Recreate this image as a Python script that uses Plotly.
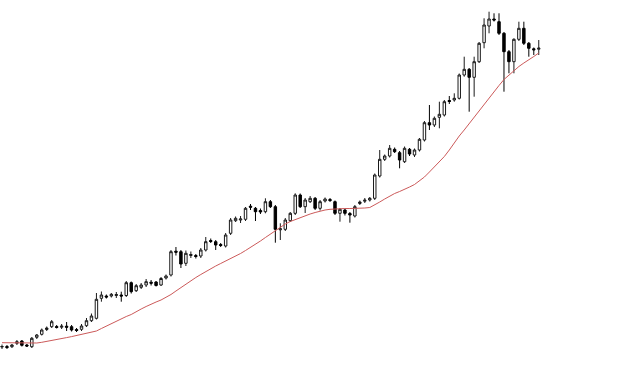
import plotly.graph_objects as go

opens = [23.0, 23.5, 23.3, 26.7, 29.0, 25.0, 23.3, 32.7, 35.7, 40.5,
         43.3, 43.5, 42.8, 43.8, 43.3, 40.5, 40.7, 44.3, 49.3, 51.7,
         71.7, 74.0, 74.0, 74.5, 75.0, 74.5, 87.3, 79.3, 82.7, 85.0,
         87.8, 88.0, 85.0, 92.0, 95.0, 118.8, 118.3, 106.7, 114.5, 114.5,
         114.0, 120.0, 129.5, 128.3, 125.5, 124.0, 136.7, 149.3, 150.0, 150.7,
         163.8, 161.7, 159.5, 158.3, 168.3, 163.3, 140.2, 140.7, 149.3, 156.7,
         175.0, 163.3, 168.3, 171.7, 161.7, 169.0, 170.5, 168.3, 156.7, 160.0,
         156.5, 154.0, 166.5, 168.8, 170.0, 171.7, 194.0, 210.7, 214.0, 220.7,
         217.3, 208.3, 220.7, 215.0, 220.0, 230.0, 247.3, 245.0, 252.7, 255.0,
         269.5, 270.0, 271.7, 295.0, 300.7, 292.7, 308.3, 327.3, 344.0, 351.0,
         348.3, 336.7, 318.3, 308.3, 330.7, 341.7, 326.7, 321.2, 320.8]
highs = [25.5, 25.0, 26.0, 30.0, 30.0, 26.0, 33.0, 36.0, 41.5, 43.5,
         50.0, 45.0, 46.0, 48.0, 45.0, 42.0, 46.0, 52.0, 56.5, 77.0,
         78.5, 75.5, 77.0, 78.0, 78.3, 89.0, 88.5, 86.0, 87.0, 91.0,
         90.0, 89.0, 93.0, 95.5, 120.0, 123.0, 120.0, 119.5, 118.5, 116.0,
         122.0, 133.0, 131.5, 130.0, 127.0, 137.0, 152.0, 153.5, 154.0, 163.0,
         166.0, 163.0, 161.5, 171.7, 170.0, 165.0, 146.7, 152.0, 158.0, 176.7,
         176.5, 172.0, 174.0, 173.0, 170.0, 172.5, 172.0, 169.5, 162.0, 161.0,
         158.0, 165.0, 169.5, 172.0, 173.0, 196.5, 220.0, 215.5, 225.0, 222.5,
         219.0, 223.5, 222.0, 221.5, 232.0, 249.0, 265.0, 253.5, 268.3, 270.0,
         274.0, 276.7, 296.5, 313.3, 302.0, 313.3, 328.0, 351.7, 358.3, 356.7,
         356.7, 338.0, 320.0, 331.7, 348.3, 348.3, 328.0, 322.5, 330.0]
lows = [21.0, 21.0, 22.0, 25.0, 23.5, 23.0, 22.0, 31.0, 34.5, 39.0,
        42.0, 41.5, 41.0, 39.0, 38.5, 38.0, 39.0, 43.0, 48.0, 50.5,
        68.3, 71.5, 72.5, 72.0, 68.3, 73.0, 76.5, 78.0, 81.0, 83.0,
        84.5, 83.5, 84.0, 90.5, 93.5, 114.5, 102.0, 104.0, 112.0, 111.5,
        112.0, 118.5, 127.0, 120.0, 123.0, 122.5, 135.0, 148.0, 147.0, 149.0,
        160.0, 149.0, 156.0, 156.7, 162.0, 127.3, 130.0, 139.0, 148.0, 155.0,
        162.0, 157.0, 167.0, 160.0, 159.5, 167.5, 168.0, 155.0, 148.3, 154.5,
        147.3, 152.5, 165.0, 167.0, 168.5, 170.0, 192.5, 209.0, 212.5, 217.0,
        201.7, 207.0, 214.0, 213.0, 218.5, 228.5, 240.0, 243.0, 241.7, 253.5,
        266.0, 268.3, 270.5, 293.3, 258.3, 273.3, 307.0, 321.7, 336.7, 348.5,
        335.0, 278.3, 296.7, 296.7, 329.0, 325.0, 313.3, 315.0, 315.0]
closes = [23.5, 22.5, 25.0, 28.3, 24.7, 24.0, 31.7, 35.0, 40.0, 42.0,
          48.3, 42.5, 43.8, 42.8, 40.0, 39.5, 44.0, 49.3, 54.0, 70.7,
          75.0, 73.0, 75.7, 75.5, 74.0, 87.3, 78.3, 84.3, 85.0, 88.3,
          86.8, 84.5, 91.5, 94.0, 118.3, 117.8, 106.0, 116.7, 115.5, 113.5,
          120.0, 128.3, 128.5, 125.0, 124.5, 135.0, 150.0, 151.7, 151.0, 161.7,
          162.8, 158.3, 158.0, 168.3, 163.3, 140.7, 141.2, 150.0, 156.7, 175.0,
          163.3, 170.0, 171.7, 161.7, 168.3, 171.0, 169.5, 156.7, 160.7, 156.7,
          155.0, 163.3, 168.0, 169.8, 171.7, 195.0, 210.7, 214.0, 221.7, 218.3,
          210.0, 221.7, 216.0, 220.0, 230.7, 247.3, 245.0, 251.7, 255.7, 268.3,
          268.5, 271.7, 295.0, 300.7, 292.7, 308.3, 326.7, 345.0, 351.0, 350.0,
          336.7, 318.3, 308.3, 330.7, 341.7, 326.7, 321.7, 320.2, 321.8]
ma_line = [27.3, 27.2, 27.1, 27.0, 26.8, 26.7, 26.6, 27.0, 27.7, 28.5,
           29.5, 30.5, 31.5, 32.4, 33.4, 34.5, 35.7, 37.2, 37.7, 39.0,
           41.5, 44.0, 46.2, 48.5, 51.0, 53.5, 55.5, 58.5, 61.0, 63.5,
           66.0, 68.0, 70.0, 72.5, 75.5, 79.0, 82.5, 86.0, 89.5, 92.5,
           95.5, 98.5, 101.5, 104.0, 106.5, 109.0, 111.0, 113.5, 116.5, 119.5,
           122.5, 125.5, 129.0, 132.5, 136.0, 139.5, 143.0, 146.0, 148.5, 150.5,
           152.5, 154.5, 156.0, 157.5, 159.0, 160.0, 160.7, 161.2, 161.5, 161.5,
           161.5, 161.5, 161.7, 162.0, 162.5, 165.0, 168.0, 171.0, 174.0, 176.5,
           178.5, 180.5, 183.0, 185.5, 189.0, 193.0, 198.0, 203.0, 207.5, 213.5,
           220.0, 227.5, 234.0, 240.0, 246.5, 252.5, 259.0, 266.0, 272.0, 278.0,
           284.5, 290.5, 295.0, 299.5, 303.5, 307.0, 310.0, 313.5, 317.0]

idx = list(range(len(closes)))

fig = go.Figure()
fig.add_trace(go.Candlestick(
    x=idx, open=opens, high=highs, low=lows, close=closes,
    increasing=dict(line=dict(color="#1a1a1a", width=1), fillcolor="#ffffff"),
    decreasing=dict(line=dict(color="#000000", width=1), fillcolor="#000000"),
    whiskerwidth=0, showlegend=False, hoverinfo="skip",
))
fig.add_trace(go.Scatter(
    x=idx, y=ma_line, mode="lines",
    line=dict(color="#cc5a5a", width=1), showlegend=False, hoverinfo="skip",
))

fig.update_layout(
    width=624, height=370,
    margin=dict(l=0, r=0, t=0, b=0),
    paper_bgcolor="#ffffff", plot_bgcolor="#ffffff",
    showlegend=False,
    xaxis=dict(visible=False, range=[-0.402, 125.15], rangeslider=dict(visible=False),
               showgrid=False, zeroline=False),
    yaxis=dict(visible=False, range=[0, 370], showgrid=False, zeroline=False),
)

fig.write_html("out.html")
